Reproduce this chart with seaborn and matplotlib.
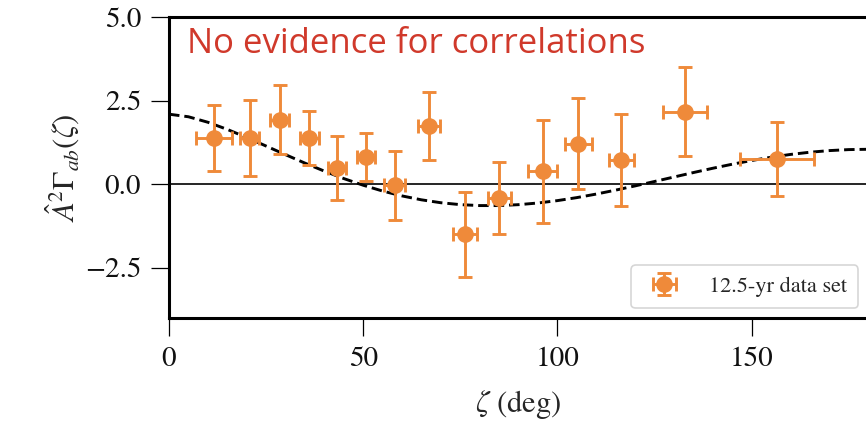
import numpy as np
import pandas as pd
import matplotlib
matplotlib.use("Agg")
import matplotlib.pyplot as plt
import seaborn as sns

# ---- data ----
zeta = [11.6, 20.8, 28.5, 36.1, 43.3, 50.8, 58.1, 66.9, 76.3, 85.1, 96.2, 105.4, 116.5, 132.8, 156.6]
corr = [1.39, 1.39, 1.94, 1.39, 0.50, 0.82, -0.03, 1.74, -1.50, -0.40, 0.39, 1.22, 0.74, 2.17, 0.75]
corr_err = [1.00, 1.13, 1.03, 0.80, 0.96, 0.72, 1.04, 1.02, 1.27, 1.08, 1.54, 1.35, 1.38, 1.33, 1.11]
zeta_err = [4.6, 2.4, 2.4, 2.4, 2.4, 2.3, 2.7, 2.9, 3.1, 3.0, 3.7, 3.4, 3.3, 5.7, 9.6]

curve_zeta = [0, 5, 10, 15, 20, 25, 30, 35, 40, 45, 50, 55, 60, 65, 70, 75, 80, 85, 90,
              95, 100, 105, 110, 115, 120, 125, 130, 135, 140, 145, 150, 155, 160, 165, 170, 175, 180]
curve_val = [2.100, 2.023, 1.859, 1.645, 1.403, 1.147, 0.889, 0.636, 0.396, 0.174, -0.026,
             -0.200, -0.346, -0.463, -0.550, -0.607, -0.635, -0.635, -0.608, -0.558, -0.487,
             -0.397, -0.291, -0.173, -0.047, 0.085, 0.219, 0.352, 0.481, 0.602, 0.713, 0.811,
             0.895, 0.961, 1.010, 1.040, 1.050]

legend_label = "12.5-yr data set"
annotation = "No evidence for correlations"
x_ticks = [0, 50, 100, 150]
y_ticks = [-2.5, 0.0, 2.5, 5.0]

sns.set_theme(style="white")
plt.rcParams["font.family"] = ["STIXGeneral", "DejaVu Serif"]
plt.rcParams["mathtext.fontset"] = "stix"
plt.rcParams["axes.unicode_minus"] = True

fig = plt.figure(figsize=(8.66, 4.25), dpi=100)
ax = fig.add_axes([169 / 866, 107 / 425, 699 / 866, 300.7 / 425])

orange = "#EF8A3A"

curve_df = pd.DataFrame({"zeta": curve_zeta, "val": curve_val})
sns.lineplot(data=curve_df, x="zeta", y="val", ax=ax, color="black",
             linestyle=(0, (3.6, 1.7)), linewidth=2.1, zorder=2)

ax.axhline(0, color="black", linewidth=1.2, zorder=1)

ax.errorbar(zeta, corr, yerr=corr_err, xerr=zeta_err, fmt="o", color=orange,
            markersize=11, elinewidth=2.1, capsize=5, capthick=2.1,
            label=legend_label, zorder=3)

ax.set_xlim(0, 180)
ax.set_ylim(-4, 5)
ax.set_xticks(x_ticks)
ax.set_yticks(y_ticks)
ax.set_xticklabels([str(t) for t in x_ticks])
ax.set_yticklabels([f"{t:.1f}".replace("-", "\u2212") for t in y_ticks])
ax.tick_params(axis="both", which="major", direction="out", length=13, width=0.9,
               labelsize=21, color="black", labelcolor="#111111",
               bottom=True, left=True)
ax.tick_params(axis="x", pad=8)
ax.tick_params(axis="y", pad=7)

for side in ["left", "bottom", "top", "right"]:
    ax.spines[side].set_color("black")
    ax.spines[side].set_linewidth(2.2)
ax.spines["right"].set_visible(False)

ax.set_xlabel(r"$\zeta$ (deg)", fontsize=22, labelpad=11)
ax.set_ylabel(r"$\hat{A}^2\Gamma_{ab}(\zeta)$", fontsize=22, labelpad=2)

leg = ax.legend(loc="lower right", fontsize=16, frameon=True, fancybox=True,
                borderaxespad=0.45, handlelength=2.0, handletextpad=1.0,
                borderpad=0.5)
leg.get_frame().set_edgecolor("#cccccc")
leg.get_frame().set_linewidth(1.2)

ax.text(0.026, 0.88, annotation, transform=ax.transAxes, color="#D0392B",
        fontsize=25, family=["Open Sans", "DejaVu Sans"], va="baseline", ha="left")

fig.savefig("out.png", dpi=100)
